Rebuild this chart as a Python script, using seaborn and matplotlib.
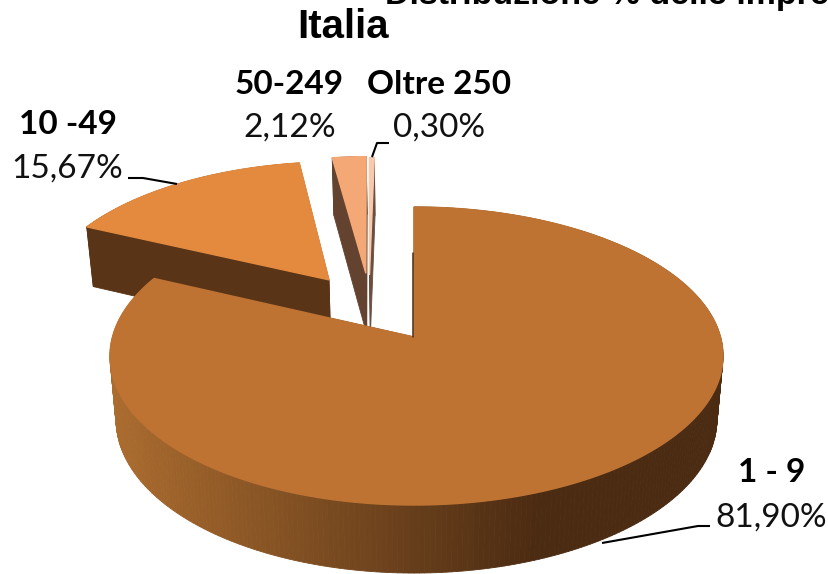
import numpy as np
import matplotlib
matplotlib.use("Agg")
import matplotlib.pyplot as plt
import seaborn as sns

# Share of firms by size class
size_classes = ["1 - 9", "10 -49", "50-249", "Oltre 250"]
shares = [81.90, 15.67, 2.12, 0.30]
percent_labels = ["81,90%", "15,67%", "2,12%", "0,30%"]

top_colors = ["#BE7333", "#E38A3F", "#F4A876", "#F9C9AE"]
side_colors = ["#4B2B12", "#5A3416", "#634330", "#6B4E40"]
rim_light = "#AB6C2F"

# Pull of each slice out of the disc, in disc units (across, towards viewer)
explode = [(0.0, 0.0), (-0.295, -0.41), (-0.168, -0.46), (-0.155, -0.447)]

sns.set_theme(style="white")
fig, ax = plt.subplots(figsize=(8.29, 5.74), dpi=100)
ax.set_position([0, 0, 1, 1])
ax.set_xlim(0, 829)
ax.set_ylim(574, 0)
ax.axis("off")

# Perspective projection of the tilted disc onto the page
X0, Y0, K, SKEW = 414.0, 337.0, 0.1275, 2.5


def project(u, v, lower=False):
    u, v = np.asarray(u, float), np.asarray(v, float)
    a, b, drop = (298.0, 151.0, 63.0) if lower else (304.0, 146.6, 0.0)
    w = 1 - K * v
    return X0 + (a * u + SKEW * u * u) / w, Y0 + drop + b * v / w


def quad(pt0, pt1, pt2, pt3, color, zorder):
    xs = [pt0[0], pt1[0], pt2[0], pt3[0]]
    ys = [pt0[1], pt1[1], pt2[1], pt3[1]]
    ax.fill(xs, ys, color=color, lw=0.6, zorder=zorder)


rim_cmap = sns.blend_palette([rim_light, side_colors[0]], as_cmap=True)
fractions = np.array(shares) / np.sum(shares)
ends = np.cumsum(fractions) * 2 * np.pi
starts = np.r_[0.0, ends[:-1]]

# Back slices first, the large slice last so that it covers their bases
for i in [1, 2, 3, 0]:
    base = 10 + (0 if i else 10)
    theta = np.linspace(starts[i], ends[i], max(8, int(400 * fractions[i])))
    du, dv = explode[i]
    arc_u, arc_v = np.sin(theta) + du, -np.cos(theta) + dv
    u = np.r_[du, arc_u, du]
    v = np.r_[dv, arc_v, dv]
    tx, ty = project(u, v)
    lx, ly = project(u, v, lower=True)

    # Outer rim and the two cut faces, then the upper surface on top
    for j in range(len(u) - 1):
        is_radial = j == 0 or j == len(u) - 2
        color = side_colors[i]
        if i == 0 and not is_radial:
            color = rim_cmap(float(np.clip((tx[j] - 110) / 430, 0, 1)))
        quad((tx[j], ty[j]), (tx[j + 1], ty[j + 1]),
             (lx[j + 1], ly[j + 1]), (lx[j], ly[j]), color, base)
    ax.fill(tx, ty, color=top_colors[i], lw=1.0, zorder=base + 1)

# Thin dark line where the large slice is cut at twelve o'clock
edge_x, edge_y = project([0, 0], [-0.62, 0])
ax.plot(edge_x - 1, edge_y, color=side_colors[0], lw=1.1, zorder=22)

# Leader lines
leaders = [
    ([710, 698, 602], [526, 526, 543]),
    ([128, 143, 177], [178, 178, 184]),
    ([389, 377, 372], [143, 143, 157]),
]
for lxs, lys in leaders:
    ax.plot(lxs, lys, color="black", lw=1.5, zorder=25, solid_capstyle="butt")

# Category names and their percentages
name_pos = [(772, 472), (68, 124), (289, 84), (439, 84)]
value_pos = [(771, 518), (67, 169), (290, 128), (439, 128)]
for name, pct, (nx, ny), (vx, vy) in zip(size_classes, percent_labels, name_pos, value_pos):
    ax.text(nx, ny, name, family="Lato", weight="bold", fontsize=24,
            ha="center", va="center", color="black", zorder=30)
    ax.text(vx, vy, pct, family="Lato", fontsize=24,
            ha="center", va="center", color="#111111", zorder=30)

# Title lines
ax.text(385, 4, "Distribuzione % delle imprese", family="Liberation Sans", weight="bold",
        fontsize=24.5, ha="left", va="baseline", color="black", zorder=30)
ax.text(343.5, 38, "Italia", family="Liberation Sans", weight="bold",
        fontsize=29, ha="center", va="baseline", color="black", zorder=30)

fig.savefig("out.png", dpi=100, facecolor="white")
